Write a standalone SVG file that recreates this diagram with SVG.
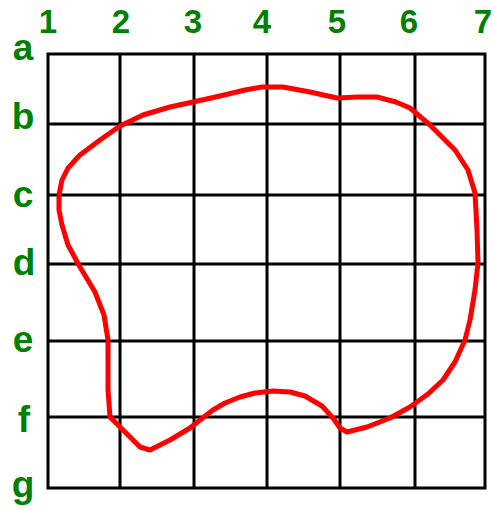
<svg xmlns="http://www.w3.org/2000/svg" width="494" height="510" viewBox="0 0 494 510">
<style>
.lbl{font-family:"Liberation Sans",Arial,sans-serif;font-weight:bold;fill:#008000;text-anchor:middle}
.num{font-size:33px}
.let{font-size:37px}
.grid line,.grid rect{stroke:#000;stroke-width:3;fill:none}
.curve{fill:none;stroke:#ff0000;stroke-width:5;stroke-linejoin:round;stroke-linecap:round}
</style>
<rect width="494" height="510" fill="#fff"/>
<g id="grid" class="grid">
<rect x="48" y="54" width="437" height="434"/>
<line x1="120" y1="54" x2="120" y2="488"/>
<line x1="194" y1="54" x2="194" y2="488"/>
<line x1="267" y1="54" x2="267" y2="488"/>
<line x1="340" y1="54" x2="340" y2="488"/>
<line x1="415" y1="54" x2="415" y2="488"/>
<line x1="48" y1="124" x2="485" y2="124"/>
<line x1="48" y1="195" x2="485" y2="195"/>
<line x1="48" y1="264" x2="485" y2="264"/>
<line x1="48" y1="341" x2="485" y2="341"/>
<line x1="48" y1="417" x2="485" y2="417"/>
</g>
<g id="col-labels">
<text class="lbl num" x="48" y="33">1</text>
<text class="lbl num" x="121" y="33">2</text>
<text class="lbl num" x="193" y="33">3</text>
<text class="lbl num" x="262" y="33">4</text>
<text class="lbl num" x="337" y="33">5</text>
<text class="lbl num" x="409" y="33">6</text>
<text class="lbl num" x="483" y="33">7</text>
</g>
<g id="row-labels">
<text class="lbl let" x="23" y="60">a</text>
<text class="lbl let" x="23" y="129">b</text>
<text class="lbl let" x="23" y="207">c</text>
<text class="lbl let" x="24" y="275">d</text>
<text class="lbl let" x="23" y="352">e</text>
<text class="lbl let" x="24" y="432">f</text>
<text class="lbl let" x="23" y="497">g</text>
</g>
<g id="connectors">
<polyline class="curve" points="59,195 62,180 68,168 80,155 100,140 120,126 143,115 170,107 193,102 220,96 245,90 262,87 283,87 310,92 337,98 358,97 377,97 396,102 410,108 430,125 455,150 468,170 475,193 477,230 478,263 475,290 470,320 465,340 455,362 443,380 428,394 410,407 390,418 367,427 347,432 340,428 333,418 322,406 305,396 290,392 273,391 255,393 240,397 225,403 213,410 200,420 190,428 170,440 150,450 140,447 125,432 110,417 108,390 108,360 108,340 104,315 95,292 80,267 68,245 62,225 59,210 59,195"/>
</g>
</svg>
